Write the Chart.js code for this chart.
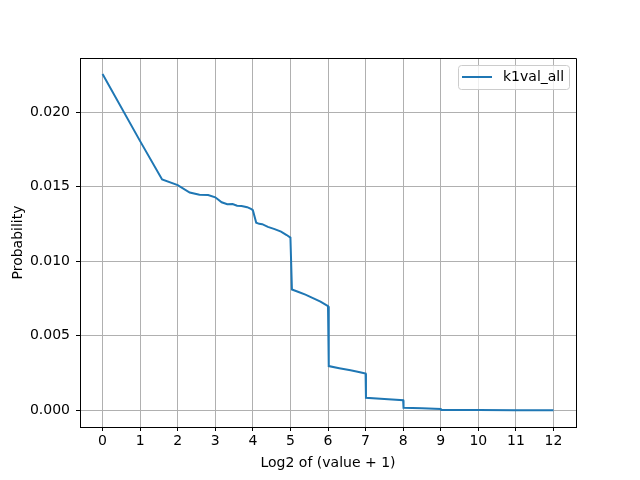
<!DOCTYPE html>
<html>
<head>
<meta charset="utf-8">
<script src="https://cdn.jsdelivr.net/npm/chart.js@4"></script>
<style>
  html, body { margin: 0; padding: 0; background: #fff; }
  #box { width: 640px; height: 480px; }
</style>
</head>
<body>
<div id="box"><canvas id="grafico"></canvas></div>
<script>
// data
const seriesName = 'k1val_all'
const xs = [0, 1, 1.585, 2.0, 2.32, 2.58, 2.81, 3.0, 3.17, 3.32, 3.46, 3.58, 3.7, 3.85, 3.95, 4.0,
    4.09, 4.17, 4.25, 4.4, 4.58, 4.75, 4.9, 5.0,
    5.04, 5.2, 5.4, 5.6, 5.8, 6.0,
    6.02, 6.3, 6.6, 6.85, 7.0,
    7.01, 7.5, 8.0,
    8.01, 8.5, 9.0,
    9.01, 10, 11, 12]
const ys = [0.02255, 0.01805, 0.01548, 0.01510, 0.01460, 0.01445, 0.01443, 0.01428, 0.01395, 0.01382, 0.01383, 0.01372, 0.01370, 0.01362, 0.01350, 0.01342,
    0.01258, 0.01250, 0.01248, 0.01230, 0.01215, 0.01198, 0.01175, 0.01158,
    0.00810, 0.00795, 0.00775, 0.00752, 0.00728, 0.00698,
    0.00296, 0.00282, 0.00268, 0.00255, 0.00246,
    0.00083, 0.00076, 0.00067,
    0.00016, 0.00013, 0.00009,
    0.00002, 0.00001, 0.000005, 0.000002]
const xTicks = [0, 1, 2, 3, 4, 5, 6, 7, 8, 9, 10, 11, 12]
const yTicks = [0, 0.005, 0.010, 0.015, 0.020]

const fonte = { family: 'DejaVu Sans', size: 14 }
Chart.defaults.color = '#000'

// top/right spines + legend box inside the axes
const molduraELegenda = {
    id: 'molduraELegenda',
    afterDraw(chart) {
        const ctx = chart.ctx, a = chart.chartArea
        ctx.save()
        ctx.strokeStyle = '#000'
        ctx.lineWidth = 1
        ctx.beginPath()
        ctx.moveTo(a.left, a.top + 0.5)
        ctx.lineTo(a.right + 0.5, a.top + 0.5)
        ctx.lineTo(a.right + 0.5, a.bottom)
        ctx.stroke()

        const bx = 458, by = 65, bw = 111, bh = 24, r = 3
        ctx.beginPath()
        ctx.roundRect(bx + 0.5, by + 0.5, bw, bh, r)
        ctx.fillStyle = 'rgba(255,255,255,0.8)'
        ctx.fill()
        ctx.strokeStyle = '#cccccc'
        ctx.stroke()
        ctx.beginPath()
        ctx.moveTo(462, 77)
        ctx.lineTo(492, 77)
        ctx.strokeStyle = '#1f77b4'
        ctx.lineWidth = 2
        ctx.stroke()
        ctx.fillStyle = '#000'
        ctx.font = '14px "DejaVu Sans"'
        ctx.textBaseline = 'middle'
        ctx.fillText(seriesName, 503, 77.5)
        ctx.restore()
    }
}

const data = {
    datasets: [{
        label: seriesName,
        data: xs.map((x, i) => ({ x: x, y: ys[i] })),
        borderColor: '#1f77b4',
        borderWidth: 2,
        pointRadius: 0,
        showLine: true,
        fill: false,
        tension: 0
    }]
}

const config = {
    type: 'scatter',
    data: data,
    options: {
        responsive: false,
        animation: false,
        layout: { padding: { left: 0, right: 64, top: 58, bottom: 0 } },
        plugins: { legend: { display: false }, tooltip: { enabled: false } },
        scales: {
            x: {
                type: 'linear',
                min: -0.6, max: 12.6,
                afterBuildTicks: s => { s.ticks = xTicks.map(v => ({ value: v })) },
                afterFit: s => { s.height = 53 },
                ticks: { font: fonte, padding: 2, maxRotation: 0, callback: v => v },
                grid: { color: '#b0b0b0', lineWidth: 1, tickColor: '#000', tickLength: 4 },
                border: { color: '#000', width: 1 },
                title: { display: true, text: 'Log2 of (value + 1)', font: fonte, padding: { top: 2, bottom: 8 } }
            },
            y: {
                min: -0.001125, max: 0.023625,
                afterBuildTicks: s => { s.ticks = yTicks.map(v => ({ value: v })) },
                afterFit: s => { s.width = 80 },
                ticks: { font: fonte, padding: 6, callback: v => v.toFixed(3) },
                grid: { color: '#b0b0b0', lineWidth: 1, tickColor: '#000', tickLength: 4 },
                border: { color: '#000', width: 1 },
                title: { display: true, text: 'Probability', font: fonte, padding: { top: 10, bottom: 0 } }
            }
        }
    },
    plugins: [molduraELegenda]
}

const canvas = document.getElementById('grafico')
canvas.width = 640
canvas.height = 480
const meuGrafico = new Chart(canvas, config)
</script>
</body>
</html>
